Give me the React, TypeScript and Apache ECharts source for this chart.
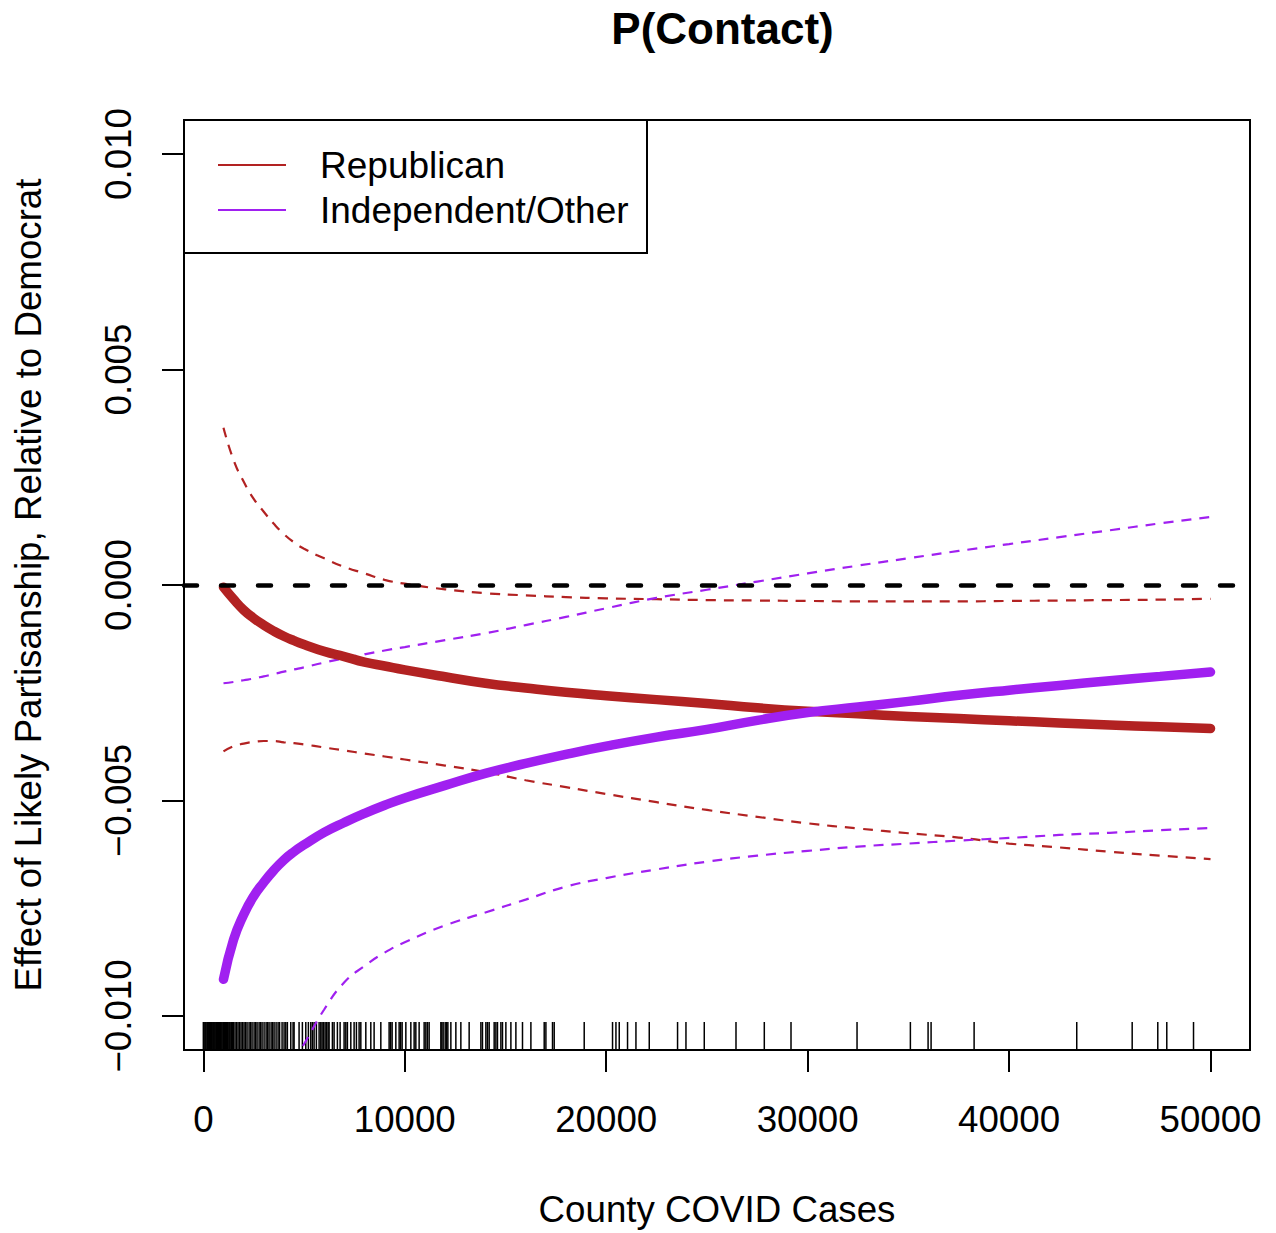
import React, { useEffect, useRef } from "react";
import * as echarts from "echarts";

// ---- data ----
const xVals = [1000, 1500, 2000, 2500, 3000, 3500, 4000, 4500, 5000, 6000, 7000, 8000, 9000, 10000, 12000, 14000, 16000, 18000, 20000, 22500, 25000, 27500, 30000, 32500, 35000, 37500, 40000, 42500, 45000, 47500, 50000];

const repEst = [-0.00005, -0.00033, -0.00058, -0.00077, -0.00093, -0.00107, -0.00119, -0.00129, -0.00138, -0.00154, -0.00166, -0.00179, -0.00188, -0.00197, -0.00213, -0.00228, -0.00239, -0.00249, -0.00257, -0.00266, -0.00275, -0.00285, -0.00293, -0.00299, -0.00305, -0.0031, -0.00315, -0.0032, -0.00325, -0.00329, -0.00333];
const repHi = [0.00365, 0.0029, 0.0024, 0.002, 0.0017, 0.00142, 0.00118, 0.00099, 0.00084, 0.00062, 0.00042, 0.00027, 0.00012, 0.00003, -0.0001, -0.00019, -0.00024, -0.00028, -0.00031, -0.00033, -0.00035, -0.00036, -0.00037, -0.00038, -0.00038, -0.00038, -0.00037, -0.00036, -0.00035, -0.00034, -0.00032];
const repLo = [-0.00386, -0.00374, -0.00368, -0.00364, -0.00362, -0.00362, -0.00365, -0.00367, -0.0037, -0.00377, -0.00384, -0.00391, -0.00398, -0.00405, -0.00419, -0.00434, -0.00453, -0.00469, -0.00485, -0.00504, -0.00522, -0.00538, -0.00553, -0.00565, -0.00576, -0.00586, -0.006, -0.00609, -0.00619, -0.00628, -0.00636];

const indEst = [-0.00915, -0.00823, -0.00765, -0.00722, -0.0069, -0.00662, -0.00638, -0.00619, -0.00603, -0.00574, -0.00551, -0.0053, -0.00511, -0.00494, -0.00465, -0.00437, -0.00414, -0.00393, -0.00374, -0.00353, -0.00335, -0.00314, -0.00296, -0.00283, -0.0027, -0.00256, -0.00244, -0.00233, -0.00222, -0.00212, -0.00202];
const indHi = [-0.00228, -0.00225, -0.00221, -0.00217, -0.00212, -0.00207, -0.00201, -0.00196, -0.00191, -0.0018, -0.0017, -0.00161, -0.00152, -0.00144, -0.00128, -0.00112, -0.00093, -0.00074, -0.00054, -0.0003, -0.00011, 0.00008, 0.00027, 0.00045, 0.00062, 0.00079, 0.00095, 0.00111, 0.00127, 0.00143, 0.00158];
const indLo = [-0.0175, -0.016, -0.0148, -0.0138, -0.0129, -0.0122, -0.0116, -0.011, -0.01065, -0.00985, -0.00922, -0.00884, -0.00853, -0.00829, -0.0079, -0.0076, -0.0073, -0.007, -0.0068, -0.0066, -0.00642, -0.00628, -0.00617, -0.00607, -0.006, -0.00593, -0.00587, -0.0058, -0.00575, -0.00569, -0.00564];

const rugCases = [
  0, 40, 90, 130, 180, 220, 270, 310, 350, 400, 440, 490, 530, 570, 620, 660, 700, 750, 790, 840, 880, 920, 970, 1010, 1060, 1100, 1140, 1190, 1230, 1280, 1320, 1370, 1410, 1450, 1500,
  1574, 1649, 1723, 1798, 1872, 1947, 2021, 2096, 2170, 2270, 2344, 2419, 2518, 2593, 2667, 2767, 2841, 2916, 3015, 3115, 3189, 3263, 3363, 3437, 3512, 3611, 3710, 3785, 3909, 4008,
  4093, 4172, 4341, 4455, 4505, 4753, 4917, 5086, 5215, 5334, 5414, 5498, 5612, 5747, 5831, 5896, 5970, 6045, 6119, 6193, 6243, 6407, 6491, 6655, 6790, 6988, 7073, 7152, 7321, 7485, 7599, 7733, 7818,
  8066, 8314, 8478, 8811, 9223, 9298, 9372, 9556, 9720, 9794, 9869, 10053, 10301, 10465, 10549, 10713, 10962, 11046, 11125, 11210, 11791,
  11841, 11905, 12005, 12069, 12139, 12288, 12536, 12784, 13196, 13778, 13857, 14026, 14105, 14190, 14438, 14523, 14602, 14771, 14851, 15019, 15268, 15516, 15844, 16261, 16922, 17006, 17334, 17418, 18908,
  20314, 20483, 20647, 21059, 21476, 22137, 23542, 23959, 24868, 26443, 27848, 29174,
  32452, 35100, 35979, 36128, 38264, 43359, 46111, 47382, 47829, 49156,
];

const xTicks = [0, 10000, 20000, 30000, 40000, 50000];
const yTicks = [-0.01, -0.005, 0, 0.005, 0.01];
const yTickLabels = ["\u22120.010", "\u22120.005", "0.000", "0.005", "0.010"];

const RED = "#B22222";
const PURPLE = "#A020F0";
const FONT = "Liberation Sans, Arial, Helvetica, sans-serif";

function pairs(ys: number[]) {
  return xVals.map((x, i) => [x, ys[i]]);
}

export default function App() {
  const ref = useRef<HTMLDivElement>(null);
  useEffect(() => {
    if (!ref.current) return;
    const chart = echarts.init(ref.current, undefined, { renderer: "svg" });
    const thick = (name: string, data: number[], color: string) => ({
      name,
      type: "line",
      data: pairs(data),
      showSymbol: false,
      symbol: "none",
      smooth: 0.5,
      lineStyle: { color, width: 9.5, cap: "round", join: "round" },
      z: 3,
    });
    const dashed = (name: string, data: number[], color: string) => ({
      name,
      type: "line",
      data: pairs(data),
      showSymbol: false,
      symbol: "none",
      smooth: 0.5,
      lineStyle: { color, width: 2.2, type: [10, 8] },
      z: 2,
    });
    chart.setOption({
      animation: false,
      backgroundColor: "#fff",
      textStyle: { fontFamily: FONT },
      title: {
        text: "P(Contact)",
        left: 717.5,
        top: 1,
        textAlign: "center",
        textStyle: { fontFamily: FONT, fontWeight: "bold", fontSize: 44, color: "#000" },
      },
      grid: {
        left: 184,
        right: 26,
        top: 120,
        bottom: 182,
        show: true,
        borderColor: "#000",
        borderWidth: 2,
        containLabel: false,
      },
      xAxis: {
        type: "value",
        min: -960,
        max: 51960,
        name: "County COVID Cases",
        nameLocation: "middle",
        nameGap: 141,
        nameTextStyle: { fontFamily: FONT, fontSize: 36.7, color: "#000" },
        axisLine: { show: false, onZero: false },
        splitLine: { show: false },
        axisTick: { show: true, length: 22, customValues: xTicks, lineStyle: { color: "#000", width: 2 } },
        axisLabel: {
          show: true,
          customValues: xTicks,
          margin: 51,
          fontFamily: FONT,
          fontSize: 36.7,
          color: "#000",
          formatter: (v: number) => String(Math.round(v)),
        },
      },
      yAxis: {
        type: "value",
        min: -0.01079,
        max: 0.01079,
        name: "Effect of Likely Partisanship, Relative to Democrat",
        nameLocation: "middle",
        nameGap: 137,
        nameRotate: 90,
        nameTextStyle: { fontFamily: FONT, fontSize: 36.7, color: "#000" },
        axisLine: { show: false, onZero: false },
        splitLine: { show: false },
        axisTick: { show: true, length: 22, customValues: yTicks, lineStyle: { color: "#000", width: 2 } },
        axisLabel: {
          show: true,
          customValues: yTicks,
          rotate: 90,
          margin: 47,
          fontFamily: FONT,
          fontSize: 36.7,
          color: "#000",
          formatter: (v: number) => {
            let best = 0;
            for (let i = 1; i < yTicks.length; i++) {
              if (Math.abs(yTicks[i] - v) < Math.abs(yTicks[best] - v)) best = i;
            }
            return yTickLabels[best];
          },
        },
      },
      graphic: [
        {
          type: "group",
          z: 100,
          children: [
            { type: "rect", shape: { x: 184, y: 120, width: 463, height: 133 }, style: { fill: "#fff", stroke: "#000", lineWidth: 2 } },
            { type: "line", shape: { x1: 218, y1: 165, x2: 286, y2: 165 }, style: { stroke: RED, lineWidth: 2 } },
            { type: "line", shape: { x1: 218, y1: 210, x2: 286, y2: 210 }, style: { stroke: PURPLE, lineWidth: 2 } },
            { type: "text", x: 320, y: 165, style: { text: "Republican", fontFamily: FONT, fontSize: 37, fill: "#000", verticalAlign: "middle", align: "left" } },
            { type: "text", x: 320, y: 210, style: { text: "Independent/Other", fontFamily: FONT, fontSize: 37, fill: "#000", verticalAlign: "middle", align: "left" } },
          ],
        },
      ],
      series: [
        {
          name: "rug",
          type: "custom",
          data: rugCases.map((c) => [c]),
          renderItem: (params: any, api: any) => {
            const p = api.coord([api.value(0), -0.01079]);
            return {
              type: "line",
              shape: { x1: p[0], y1: p[1], x2: p[0], y2: p[1] - 28 },
              style: { stroke: "#000", lineWidth: 1.5 },
            };
          },
          z: 1,
        },
        dashed("Republican upper", repHi, RED),
        dashed("Republican lower", repLo, RED),
        dashed("Independent/Other upper", indHi, PURPLE),
        dashed("Independent/Other lower", indLo, PURPLE),
        thick("Republican", repEst, RED),
        thick("Independent/Other", indEst, PURPLE),
        {
          name: "zero",
          type: "line",
          data: [],
          z: 5,
          markLine: {
            silent: true,
            symbol: "none",
            label: { show: false },
            lineStyle: { color: "#000", width: 4.5, type: [13, 24], cap: "round" },
            data: [{ yAxis: 0 }],
          },
        },
      ],
    });
    return () => chart.dispose();
  }, []);
  return <div ref={ref} style={{ position: "absolute", left: 0, top: 0, width: 1276, height: 1233 }} />;
}
